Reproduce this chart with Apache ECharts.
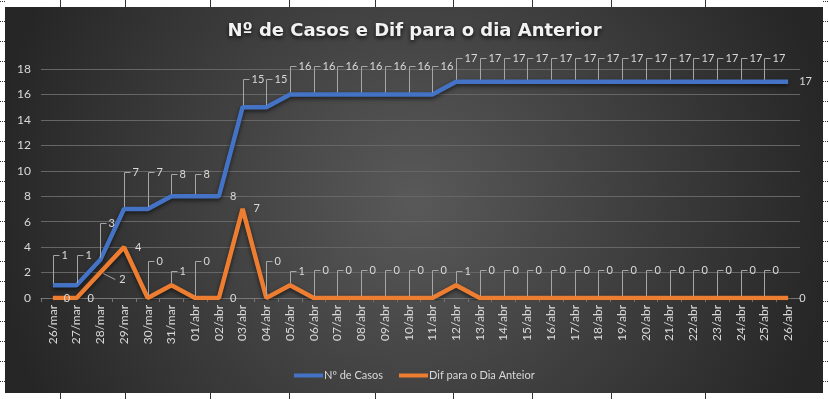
<!DOCTYPE html>
<html>
<head>
<meta charset="utf-8">
<script src="https://cdn.jsdelivr.net/npm/echarts@6/dist/echarts.min.js"></script>
<style>
  html, body { margin: 0; padding: 0; background: #fff; }
  #chart { width: 829px; height: 399px; }
</style>
</head>
<body>
<div id="chart"></div>
<script>
// dados do gráfico
const categories = ['26/mar', '27/mar', '28/mar', '29/mar', '30/mar', '31/mar',
  '01/abr', '02/abr', '03/abr', '04/abr', '05/abr', '06/abr', '07/abr', '08/abr',
  '09/abr', '10/abr', '11/abr', '12/abr', '13/abr', '14/abr', '15/abr', '16/abr',
  '17/abr', '18/abr', '19/abr', '20/abr', '21/abr', '22/abr', '23/abr', '24/abr',
  '25/abr', '26/abr'];
const casos = [1, 1, 3, 7, 7, 8, 8, 8, 15, 15, 16, 16, 16, 16, 16, 16, 16,
  17, 17, 17, 17, 17, 17, 17, 17, 17, 17, 17, 17, 17, 17, 17];
const dif = [0, 0, 2, 4, 0, 1, 0, 0, 7, 0, 1, 0, 0, 0, 0, 0, 0, 1,
  0, 0, 0, 0, 0, 0, 0, 0, 0, 0, 0, 0, 0, 0];
const yTicks = { min: 0, max: 18, interval: 2 };

const labelColor = '#d9d9d9';
const font = 'Lato, "Noto Sans", sans-serif';
const last = categories.length - 1;

// linhas de grade da planilha em volta do gráfico
const sheet = [];
[60, 125, 210, 289, 375, 453, 532, 611, 705].forEach(function (x) {
  sheet.push({ type: 'line', shape: { x1: x + 0.5, y1: 0, x2: x + 0.5, y2: 7 }, style: { stroke: '#333', lineWidth: 1 } });
  sheet.push({ type: 'line', shape: { x1: x + 0.5, y1: 393, x2: x + 0.5, y2: 399 }, style: { stroke: '#333', lineWidth: 1 } });
});
for (let k = 0; k < 20; k++) {
  const y = 1.5 + 20 * k;
  sheet.push({ type: 'line', shape: { x1: 0, y1: y, x2: 5, y2: y }, style: { stroke: '#333', lineWidth: 1, lineDash: [1, 1] } });
  sheet.push({ type: 'line', shape: { x1: 823, y1: y, x2: 829, y2: y }, style: { stroke: '#333', lineWidth: 1, lineDash: [1, 1] } });
}

// altura dos textos explicativos (estilo Excel)
function liftCasos(i) {
  if (i === 7 || i === last) return 0;
  if (casos[i] >= 17) return 24;
  if (casos[i] >= 15) return 28;
  if (casos[i] === 8) return 22;
  if (casos[i] >= 3) return 37;
  return 30;
}
function liftDif(i) {
  if (i <= 1 || i === 7 || i === last || dif[i] >= 4) return 0;
  if (dif[i] === 2) return -7;
  if (dif[i] === 1) return 14;
  if (i === 4 || i === 6 || i === 9) return 37;
  return 28;
}

function callout(values, liftFn) {
  return function (params, api) {
    const i = api.value(0);
    const p = api.coord([i, api.value(1)]);
    const x = Math.round(p[0]) + 0.5;
    const lift = liftFn(i);
    const children = [];
    let tx = p[0] + 11;
    let ty = p[1];
    if (lift > 0) {
      ty = Math.round(p[1] - lift) + 0.5;
      children.push({
        type: 'polyline',
        shape: { points: [[x, p[1] - 2], [x, ty], [x + 6, ty]] },
        style: { stroke: '#a6a6a6', lineWidth: 1, fill: null }
      });
      tx = x + 8;
    } else if (lift < 0) {
      ty = p[1] - lift;
      children.push({
        type: 'polyline',
        shape: { points: [[p[0] + 3, p[1] + 1], [p[0] + 15, ty]] },
        style: { stroke: '#a6a6a6', lineWidth: 1, fill: null }
      });
      tx = p[0] + 19;
    }
    children.push({
      type: 'text',
      style: {
        text: String(values[i]), x: tx, y: ty, fill: labelColor,
        font: '11px ' + font, align: 'left', verticalAlign: 'middle'
      }
    });
    return { type: 'group', children: children };
  };
}

const chart = echarts.init(document.getElementById('chart'));
chart.setOption({
  backgroundColor: '#fff',
  animation: false,
  textStyle: { fontFamily: font },
  graphic: {
    elements: [{
      type: 'rect', z: -10, silent: true,
      shape: { x: 5, y: 7, width: 818, height: 386 },
      style: {
        fill: new echarts.graphic.RadialGradient(0.5, 0.5, 1.1, [
          { offset: 0, color: '#595959' },
          { offset: 1, color: '#262626' }
        ])
      }
    }].concat(sheet)
  },
  title: {
    text: 'Nº de Casos e Dif para o dia Anterior',
    left: 'center',
    top: 17,
    textStyle: {
      color: '#f2f2f2', fontSize: 18, fontWeight: 'bold', fontFamily: '"DejaVu Sans", sans-serif',
      textShadowColor: 'rgba(0,0,0,0.8)', textShadowBlur: 4, textShadowOffsetY: 2
    }
  },
  legend: {
    top: 370,
    left: 294,
    padding: 0,
    icon: 'rect',
    itemWidth: 29,
    itemHeight: 4,
    itemGap: 16,
    textStyle: { color: labelColor, fontSize: 11, fontFamily: font, padding: [0, 0, 0, -4] },
    data: ['Nº de Casos', 'Dif para o Dia Anteior']
  },
  grid: { left: 41, right: 29, top: 69, bottom: 101 },
  xAxis: {
    type: 'category',
    data: categories,
    boundaryGap: true,
    axisLine: { lineStyle: { color: '#777', width: 1 } },
    axisTick: { show: true, length: 4, lineStyle: { color: '#777' } },
    axisLabel: { rotate: 90, color: labelColor, fontSize: 12, margin: 7, fontFamily: font }
  },
  yAxis: {
    type: 'value',
    min: yTicks.min, max: yTicks.max, interval: yTicks.interval,
    axisLine: { show: false },
    axisTick: { show: false },
    axisLabel: { color: labelColor, fontSize: 12, margin: 10, fontFamily: font },
    splitLine: { lineStyle: { color: '#666', width: 1 } }
  },
  series: [
    {
      name: 'Nº de Casos',
      type: 'line',
      data: casos,
      symbol: 'none',
      color: '#4472c4',
      lineStyle: { width: 4.5, color: '#4472c4', shadowColor: 'rgba(0,0,0,0.6)', shadowBlur: 4, shadowOffsetY: 2 },
      z: 3
    },
    {
      name: 'Dif para o Dia Anteior',
      type: 'line',
      data: dif,
      symbol: 'none',
      color: '#ed7d31',
      lineStyle: { width: 4.5, color: '#ed7d31', shadowColor: 'rgba(0,0,0,0.6)', shadowBlur: 4, shadowOffsetY: 2 },
      z: 2
    },
    {
      name: 'rotulosCasos',
      type: 'custom',
      silent: true,
      data: casos.map(function (v, i) { return [i, v]; }),
      encode: { x: 0, y: 1 },
      renderItem: callout(casos, liftCasos),
      z: 4
    },
    {
      name: 'rotulosDif',
      type: 'custom',
      silent: true,
      data: dif.map(function (v, i) { return [i, v]; }),
      encode: { x: 0, y: 1 },
      renderItem: callout(dif, liftDif),
      z: 4
    }
  ]
});
</script>
</body>
</html>
